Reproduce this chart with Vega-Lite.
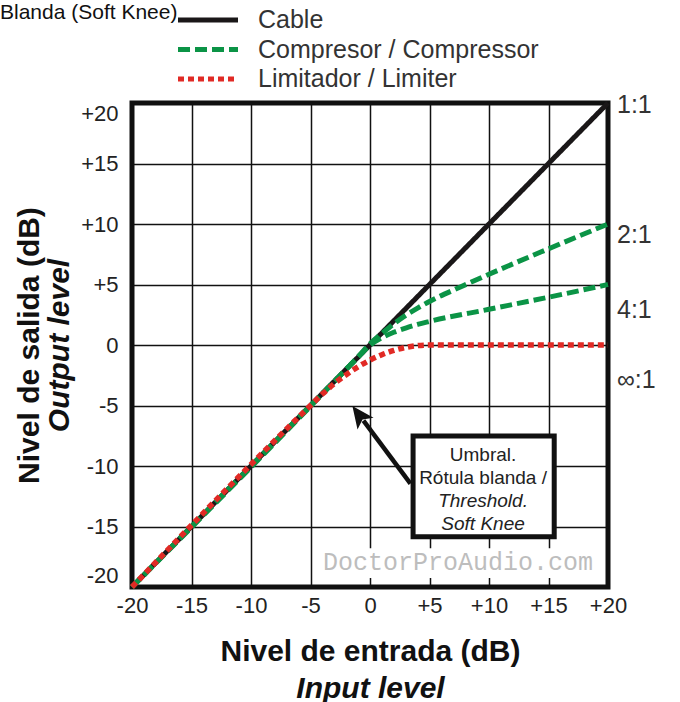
{
  "$schema": "https://vega.github.io/schema/vega-lite/v6.json",
  "width": 476,
  "height": 484,
  "autosize": "none",
  "padding": {"left": 132, "top": 103, "right": 72, "bottom": 115},
  "background": "white",
  "title": {
    "text": "Blanda (Soft Knee)",
    "anchor": "start",
    "frame": "group",
    "font": "Liberation Sans",
    "fontSize": 21,
    "fontWeight": "normal",
    "color": "#111111",
    "offset": 0,
    "dx": -132,
    "dy": 15
  },
  "config": {
    "font": "Liberation Sans",
    "view": {"stroke": "#111111", "strokeWidth": 5},
    "legend": {
      "orient": "none",
      "legendX": 63.5,
      "legendY": -95.5,
      "padding": 0,
      "title": null,
      "labelFont": "Liberation Sans",
      "labelFontSize": 25,
      "labelColor": "#333333",
      "labelOffset": 37.5,
      "labelLimit": 0,
      "rowPadding": 3.5,
      "symbolType": "M-3,0L3,0",
      "symbolSize": 400,
      "symbolStrokeWidth": 5
    }
  },
  "datasets": {
    "curves": [
      {"type": "Cable", "curve": "1:1", "x": -20, "y": -20},
      {"type": "Cable", "curve": "1:1", "x": 20, "y": 20},
      {"type": "Compresor / Compressor", "curve": "2:1", "x": -20, "y": -20},
      {"type": "Compresor / Compressor", "curve": "2:1", "x": -2, "y": -2},
      {"type": "Compresor / Compressor", "curve": "2:1", "x": -1, "y": -0.97},
      {"type": "Compresor / Compressor", "curve": "2:1", "x": 0, "y": 0.1},
      {"type": "Compresor / Compressor", "curve": "2:1", "x": 1, "y": 0.95},
      {"type": "Compresor / Compressor", "curve": "2:1", "x": 2, "y": 1.75},
      {"type": "Compresor / Compressor", "curve": "2:1", "x": 3, "y": 2.45},
      {"type": "Compresor / Compressor", "curve": "2:1", "x": 4, "y": 3.05},
      {"type": "Compresor / Compressor", "curve": "2:1", "x": 5, "y": 3.6},
      {"type": "Compresor / Compressor", "curve": "2:1", "x": 7.5, "y": 4.75},
      {"type": "Compresor / Compressor", "curve": "2:1", "x": 10, "y": 5.85},
      {"type": "Compresor / Compressor", "curve": "2:1", "x": 15, "y": 7.95},
      {"type": "Compresor / Compressor", "curve": "2:1", "x": 20, "y": 10},
      {"type": "Compresor / Compressor", "curve": "4:1", "x": -20, "y": -20},
      {"type": "Compresor / Compressor", "curve": "4:1", "x": -2, "y": -2},
      {"type": "Compresor / Compressor", "curve": "4:1", "x": -1, "y": -1},
      {"type": "Compresor / Compressor", "curve": "4:1", "x": 0, "y": -0.02},
      {"type": "Compresor / Compressor", "curve": "4:1", "x": 1, "y": 0.6},
      {"type": "Compresor / Compressor", "curve": "4:1", "x": 2, "y": 1.05},
      {"type": "Compresor / Compressor", "curve": "4:1", "x": 3, "y": 1.4},
      {"type": "Compresor / Compressor", "curve": "4:1", "x": 4, "y": 1.7},
      {"type": "Compresor / Compressor", "curve": "4:1", "x": 5, "y": 1.95},
      {"type": "Compresor / Compressor", "curve": "4:1", "x": 10, "y": 2.95},
      {"type": "Compresor / Compressor", "curve": "4:1", "x": 15, "y": 3.95},
      {"type": "Compresor / Compressor", "curve": "4:1", "x": 20, "y": 5},
      {"type": "Limitador / Limiter", "curve": "inf:1", "x": -20, "y": -20},
      {"type": "Limitador / Limiter", "curve": "inf:1", "x": -5, "y": -5},
      {"type": "Limitador / Limiter", "curve": "inf:1", "x": -4, "y": -4.05},
      {"type": "Limitador / Limiter", "curve": "inf:1", "x": -3, "y": -3.2},
      {"type": "Limitador / Limiter", "curve": "inf:1", "x": -2, "y": -2.45},
      {"type": "Limitador / Limiter", "curve": "inf:1", "x": -1, "y": -1.8},
      {"type": "Limitador / Limiter", "curve": "inf:1", "x": 0, "y": -1.25},
      {"type": "Limitador / Limiter", "curve": "inf:1", "x": 1, "y": -0.8},
      {"type": "Limitador / Limiter", "curve": "inf:1", "x": 2, "y": -0.45},
      {"type": "Limitador / Limiter", "curve": "inf:1", "x": 3, "y": -0.2},
      {"type": "Limitador / Limiter", "curve": "inf:1", "x": 4, "y": -0.05},
      {"type": "Limitador / Limiter", "curve": "inf:1", "x": 5, "y": 0},
      {"type": "Limitador / Limiter", "curve": "inf:1", "x": 20, "y": 0}
    ]
  },
  "layer": [
    {
      "encoding": {
        "x": {
          "field": "x",
          "type": "quantitative",
          "scale": {"domain": [-20, 20], "nice": false, "zero": false},
          "axis": {
            "orient": "bottom",
            "values": [-20, -15, -10, -5, 0, 5, 10, 15, 20],
            "labelExpr": "datum.value > 0 ? '+' + datum.value : '' + datum.value",
            "labelFont": "Liberation Sans",
            "labelFontSize": 22,
            "labelColor": "#222222",
            "labelPadding": 8,
            "labelOverlap": false,
            "labelFlush": false,
            "labelBound": false,
            "ticks": false,
            "domain": false,
            "grid": true,
            "gridColor": "#111111",
            "gridWidth": 1.5,
            "title": "Nivel de entrada (dB)",
            "titleFont": "Liberation Sans",
            "titleFontSize": 30,
            "titleFontWeight": "bold",
            "titleColor": "#111111",
            "titlePadding": 20
          }
        },
        "y": {
          "field": "y",
          "type": "quantitative",
          "scale": {"domain": [-20, 20], "nice": false, "zero": false},
          "axis": {
            "orient": "left",
            "values": [-20, -15, -10, -5, 0, 5, 10, 15, 20],
            "labelExpr": "datum.value > 0 ? '+' + datum.value : '' + datum.value",
            "labelFont": "Liberation Sans",
            "labelFontSize": 22,
            "labelColor": "#222222",
            "labelPadding": 14,
            "labelOverlap": false,
            "labelFlush": true,
            "labelBound": false,
            "ticks": false,
            "domain": false,
            "grid": true,
            "gridColor": "#111111",
            "gridWidth": 1.5,
            "title": "Nivel de salida (dB)",
            "titleFont": "Liberation Sans",
            "titleFontSize": 30,
            "titleFontWeight": "bold",
            "titleColor": "#111111",
            "titlePadding": 36
          }
        }
      },
      "layer": [
        {
          "data": {"values": [{"x": -4.4, "y": -16.8, "x2": 19.2, "y2": -19.25}]},
          "mark": {"type": "rect", "fill": "white", "stroke": null},
          "encoding": {"x2": {"field": "x2"}, "y2": {"field": "y2"}}
        },
        {
          "data": {"values": [{"text": "DoctorProAudio.com", "x": 7.4, "y": -17.95}]},
          "mark": {"type": "text", "font": "Liberation Mono", "fontSize": 25, "color": "#bdbdbd", "align": "center", "baseline": "middle"},
          "encoding": {"text": {"field": "text"}}
        },
        {
          "data": {"name": "curves"},
          "transform": [{"filter": "datum.type === 'Cable'"}],
          "mark": {"type": "line", "strokeWidth": 5, "strokeCap": "butt", "interpolate": "monotone"},
          "encoding": {
            "color": {"field": "type", "type": "nominal", "scale": {"domain": ["Cable", "Compresor / Compressor", "Limitador / Limiter"], "range": ["#1a1718", "#0b9446", "#e12a25"]}},
            "strokeDash": {"field": "type", "type": "nominal", "scale": {"domain": ["Cable", "Compresor / Compressor", "Limitador / Limiter"], "range": [[1, 0], [12, 5], [6, 4]]}},
            "detail": {"field": "curve"}
          }
        },
        {
          "data": {"name": "curves"},
          "transform": [{"filter": "datum.type === 'Compresor / Compressor'"}],
          "mark": {"type": "line", "strokeWidth": 5, "strokeCap": "butt", "interpolate": "monotone"},
          "encoding": {
            "color": {"field": "type", "type": "nominal"},
            "strokeDash": {"field": "type", "type": "nominal"},
            "detail": {"field": "curve"}
          }
        },
        {
          "data": {"name": "curves"},
          "transform": [{"filter": "datum.type === 'Limitador / Limiter'"}],
          "mark": {"type": "line", "strokeWidth": 5.5, "strokeCap": "butt", "interpolate": "monotone"},
          "encoding": {
            "color": {"field": "type", "type": "nominal"},
            "strokeDash": {"field": "type", "type": "nominal"},
            "detail": {"field": "curve"}
          }
        },
        {
          "data": {"values": [{"x": 3.62, "y": -7.52, "x2": 15.48, "y2": -15.84}]},
          "mark": {"type": "rect", "fill": "white", "stroke": "#111111", "strokeWidth": 5},
          "encoding": {"x2": {"field": "x2"}, "y2": {"field": "y2"}}
        },
        {
          "data": {"values": [{"text": "Umbral.", "x": 9.5, "y": -9.1}, {"text": "Rótula blanda /", "x": 9.5, "y": -11.0}]},
          "mark": {"type": "text", "fontSize": 19, "color": "#222222", "align": "center", "baseline": "middle"},
          "encoding": {"text": {"field": "text"}}
        },
        {
          "data": {"values": [{"text": "Threshold.", "x": 9.5, "y": -12.9}, {"text": "Soft Knee", "x": 9.5, "y": -14.8}]},
          "mark": {"type": "text", "fontSize": 19, "fontStyle": "italic", "color": "#222222", "align": "center", "baseline": "middle"},
          "encoding": {"text": {"field": "text"}}
        },
        {
          "data": {"values": [{"x": 3.4, "y": -11.45, "x2": -0.55, "y2": -6.25}]},
          "mark": {"type": "rule", "strokeWidth": 4.5, "color": "#111111"},
          "encoding": {"x2": {"field": "x2"}, "y2": {"field": "y2"}}
        },
        {
          "data": {"values": [{"x": -1.48, "y": -5.04}]},
          "mark": {"type": "point", "shape": "M0,0L-1,2.2L0,1.7L1,2.2Z", "size": 400, "filled": true, "color": "#111111", "opacity": 1, "angle": 323.3}
        }
      ]
    },
    {
      "data": {"values": [
        {"label": "1:1", "x": 20, "y": 19.8},
        {"label": "2:1", "x": 20, "y": 9.1},
        {"label": "4:1", "x": 20, "y": 2.9},
        {"label": "∞:1", "x": 20, "y": -2.9}
      ]},
      "mark": {"type": "text", "align": "left", "baseline": "middle", "dx": 9, "fontSize": 25, "color": "#333333"},
      "encoding": {
        "x": {
          "field": "x",
          "type": "quantitative",
          "scale": {"domain": [-20, 20], "nice": false, "zero": false},
          "axis": {"orient": "bottom", "labels": false, "ticks": false, "domain": false, "grid": false, "title": "Input level", "titleFont": "Liberation Sans", "titleFontSize": 30, "titleFontWeight": "bold", "titleFontStyle": "italic", "titleColor": "#111111", "titlePadding": 86}
        },
        "y": {
          "field": "y",
          "type": "quantitative",
          "scale": {"domain": [-20, 20], "nice": false, "zero": false},
          "axis": {"orient": "left", "labels": false, "ticks": false, "domain": false, "grid": false, "title": "Output level", "titleFont": "Liberation Sans", "titleFontSize": 30, "titleFontWeight": "bold", "titleFontStyle": "italic", "titleColor": "#111111", "titlePadding": 58}
        },
        "text": {"field": "label"}
      }
    }
  ],
  "resolve": {"axis": {"x": "independent", "y": "independent"}}
}
